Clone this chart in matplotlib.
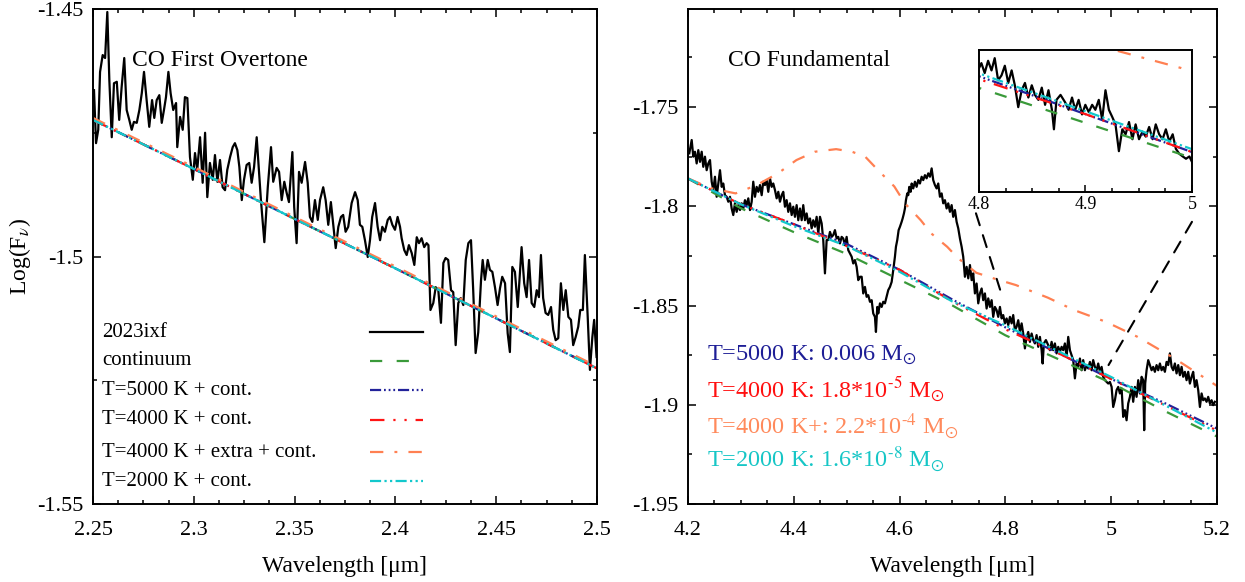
import numpy as np
import matplotlib
matplotlib.use("Agg")
import matplotlib.pyplot as plt
from matplotlib.ticker import MultipleLocator, FuncFormatter
from matplotlib.lines import Line2D
from matplotlib.patches import ConnectionPatch

plt.rcParams['font.family'] = ['Liberation Serif', 'DejaVu Serif']
plt.rcParams['mathtext.fontset'] = 'stix'
plt.rcParams['axes.unicode_minus'] = False

# ---- CO first overtone region (2.25-2.5 micron) ----
left_wl = [
    2.2505, 2.2515, 2.2526, 2.2535, 2.2548, 2.2560, 2.2571, 2.2581, 2.2593, 2.2604,
    2.2618, 2.2630, 2.2642, 2.2655, 2.2667, 2.2680, 2.2692, 2.2703, 2.2717, 2.2730,
    2.2742, 2.2753, 2.2766, 2.2779, 2.2793, 2.2804, 2.2816, 2.2829, 2.2841, 2.2852,
    2.2862, 2.2874, 2.2885, 2.2898, 2.2912, 2.2918, 2.2932, 2.2945, 2.2956, 2.2968,
    2.2981, 2.2995, 2.3006, 2.3017, 2.3031, 2.3044, 2.3056, 2.3067, 2.3080, 2.3094,
    2.3105, 2.3117, 2.3130, 2.3143, 2.3155, 2.3166, 2.3180, 2.3193, 2.3204, 2.3216,
    2.3226, 2.3238, 2.3249, 2.3262, 2.3275, 2.3287, 2.3299, 2.3312, 2.3333, 2.3350,
    2.3367, 2.3383, 2.3394, 2.3411, 2.3423, 2.3436, 2.3449, 2.3461, 2.3472, 2.3489,
    2.3498, 2.3510, 2.3522, 2.3535, 2.3552, 2.3565, 2.3576, 2.3588, 2.3601, 2.3615,
    2.3626, 2.3642, 2.3654, 2.3667, 2.3680, 2.3692, 2.3704, 2.3717, 2.3730, 2.3741,
    2.3753, 2.3766, 2.3783, 2.3800, 2.3813, 2.3824, 2.3836, 2.3849, 2.3863, 2.3874,
    2.3885, 2.3899, 2.3912, 2.3924, 2.3935, 2.3948, 2.3962, 2.3973, 2.3985, 2.3998,
    2.4011, 2.4023, 2.4031, 2.4044, 2.4056, 2.4067, 2.4081, 2.4094, 2.4106, 2.4117,
    2.4130, 2.4143, 2.4155, 2.4164, 2.4174, 2.4188, 2.4200, 2.4213, 2.4226, 2.4238,
    2.4249, 2.4262, 2.4276, 2.4287, 2.4299, 2.4312, 2.4324, 2.4337, 2.4349, 2.4362,
    2.4375, 2.4386, 2.4398, 2.4411, 2.4425, 2.4433, 2.4444, 2.4458, 2.4469, 2.4481,
    2.4494, 2.4507, 2.4519, 2.4530, 2.4544, 2.4557, 2.4568, 2.4580, 2.4593, 2.4607,
    2.4618, 2.4626, 2.4639, 2.4651, 2.4663, 2.4676, 2.4689, 2.4701, 2.4712, 2.4722,
    2.4733, 2.4745, 2.4758, 2.4772, 2.4783, 2.4795, 2.4808, 2.4821, 2.4833, 2.4845,
    2.4858, 2.4871, 2.4882, 2.4894, 2.4907, 2.4917, 2.4930, 2.4940, 2.4954, 2.4965,
    2.4977, 2.4986, 2.4998]
left_flux = [
    -1.4664, -1.4771, -1.4744, -1.4627, -1.4593, -1.4599, -1.4506, -1.4643, -1.4759, -1.4650,
    -1.4647, -1.4724, -1.4658, -1.4599, -1.4704, -1.4724, -1.4744, -1.4728, -1.4730, -1.4704,
    -1.4670, -1.4627, -1.4684, -1.4738, -1.4684, -1.4720, -1.4684, -1.4674, -1.4730, -1.4704,
    -1.4678, -1.4627, -1.4670, -1.4704, -1.4690, -1.4779, -1.4718, -1.4744, -1.4678, -1.4680,
    -1.4799, -1.4845, -1.4791, -1.4825, -1.4759, -1.4851, -1.4750, -1.4880, -1.4811, -1.4845,
    -1.4795, -1.4849, -1.4805, -1.4860, -1.4866, -1.4825, -1.4799, -1.4779, -1.4771, -1.4785,
    -1.4819, -1.4886, -1.4845, -1.4815, -1.4811, -1.4851, -1.4819, -1.4759, -1.4886, -1.4971,
    -1.4860, -1.4779, -1.4849, -1.4821, -1.4829, -1.4886, -1.4849, -1.4872, -1.4890, -1.4789,
    -1.4900, -1.4973, -1.4829, -1.4851, -1.4809, -1.4851, -1.4920, -1.4930, -1.4886, -1.4926,
    -1.4886, -1.4860, -1.4886, -1.4936, -1.4890, -1.4936, -1.4983, -1.4940, -1.4920, -1.4916,
    -1.4950, -1.4940, -1.4892, -1.4870, -1.4886, -1.4936, -1.4940, -1.4967, -1.5001, -1.4967,
    -1.4920, -1.4892, -1.4940, -1.4967, -1.4940, -1.4950, -1.4926, -1.4920, -1.4936, -1.4946,
    -1.4920, -1.4940, -1.4963, -1.4987, -1.4997, -1.4977, -1.4993, -1.5017, -1.4961, -1.4973,
    -1.4963, -1.4981, -1.4973, -1.4977, -1.5108, -1.5094, -1.5062, -1.5068, -1.5134, -1.5013,
    -1.5003, -1.5007, -1.5068, -1.5072, -1.5179, -1.5094, -1.5084, -1.5098, -1.5007, -1.4973,
    -1.4967, -1.5068, -1.5195, -1.5153, -1.5047, -1.5007, -1.5047, -1.5007, -1.5027, -1.5031,
    -1.5062, -1.5098, -1.5064, -1.5041, -1.5054, -1.5155, -1.5193, -1.5021, -1.5031, -1.5102,
    -1.5033, -1.4981, -1.5054, -1.5082, -1.5007, -1.5094, -1.5102, -1.5068, -1.5082, -1.4997,
    -1.5084, -1.5114, -1.5118, -1.5102, -1.5148, -1.5169, -1.5165, -1.5054, -1.5108, -1.5068,
    -1.5122, -1.5128, -1.5179, -1.5163, -1.5142, -1.5108, -1.5108, -1.4997, -1.5122, -1.5229,
    -1.5163, -1.5128, -1.5203]

model_wl_l = [2.25, 2.30, 2.35, 2.40, 2.45, 2.50]
cont_l = [-1.4724, -1.4823, -1.4924, -1.5024, -1.5125, -1.5226]
t5000_l = [-1.4724, -1.4823, -1.4924, -1.5024, -1.5125, -1.5226]
t4000_l = [-1.4724, -1.4823, -1.4924, -1.5024, -1.5125, -1.5226]
extra_l = [-1.4720, -1.4819, -1.4920, -1.5020, -1.5121, -1.5222]
t2000_l = [-1.4724, -1.4823, -1.4924, -1.5024, -1.5125, -1.5226]

# ---- CO fundamental region (4.2-5.2 micron) ----
right_wl = [
    4.2025, 4.2070, 4.2100, 4.2132, 4.2164, 4.2195, 4.2227, 4.2259, 4.2289, 4.2321,
    4.2353, 4.2384, 4.2416, 4.2448, 4.2478, 4.2510, 4.2542, 4.2573, 4.2605, 4.2637,
    4.2667, 4.2699, 4.2731, 4.2762, 4.2794, 4.2826, 4.2856, 4.2888, 4.2920, 4.2951,
    4.2983, 4.3015, 4.3045, 4.3077, 4.3109, 4.3140, 4.3172, 4.3204, 4.3234, 4.3266,
    4.3298, 4.3329, 4.3361, 4.3393, 4.3423, 4.3455, 4.3487, 4.3518, 4.3550, 4.3582,
    4.3612, 4.3644, 4.3676, 4.3707, 4.3739, 4.3771, 4.3801, 4.3833, 4.3865, 4.3896,
    4.3928, 4.3960, 4.3990, 4.4022, 4.4054, 4.4085, 4.4117, 4.4149, 4.4179, 4.4211,
    4.4243, 4.4274, 4.4306, 4.4338, 4.4368, 4.4400, 4.4432, 4.4463, 4.4495, 4.4527,
    4.4557, 4.4589, 4.4621, 4.4652, 4.4684, 4.4716, 4.4746, 4.4778, 4.4810, 4.4841,
    4.4873, 4.4905, 4.4935, 4.4967, 4.4999, 4.5030, 4.5062, 4.5094, 4.5124, 4.5156,
    4.5188, 4.5219, 4.5251, 4.5283, 4.5313, 4.5345, 4.5377, 4.5408, 4.5440, 4.5472,
    4.5502, 4.5534, 4.5553, 4.5578, 4.5597, 4.5629, 4.5661, 4.5691, 4.5723, 4.5755,
    4.5786, 4.5818, 4.5850, 4.5880, 4.5912, 4.5931, 4.5956, 4.5982, 4.6007, 4.6039,
    4.6058, 4.6082, 4.6101, 4.6120, 4.6145, 4.6164, 4.6183, 4.6209, 4.6228, 4.6258,
    4.6290, 4.6322, 4.6353, 4.6385, 4.6417, 4.6447, 4.6479, 4.6511, 4.6542, 4.6574,
    4.6606, 4.6636, 4.6668, 4.6700, 4.6731, 4.6763, 4.6795, 4.6825, 4.6857, 4.6889,
    4.6920, 4.6952, 4.6984, 4.7014, 4.7046, 4.7078, 4.7109, 4.7141, 4.7173, 4.7203,
    4.7235, 4.7267, 4.7298, 4.7330, 4.7362, 4.7392, 4.7424, 4.7456, 4.7487, 4.7519,
    4.7551, 4.7581, 4.7613, 4.7645, 4.7676, 4.7708, 4.7740, 4.7770, 4.7802, 4.7834,
    4.7865, 4.7897, 4.7929, 4.7959, 4.7991, 4.8023, 4.8054, 4.8086, 4.8118, 4.8148,
    4.8180, 4.8212, 4.8243, 4.8275, 4.8307, 4.8337, 4.8369, 4.8401, 4.8432, 4.8464,
    4.8496, 4.8526, 4.8558, 4.8590, 4.8621, 4.8653, 4.8685, 4.8704, 4.8728, 4.8766,
    4.8810, 4.8842, 4.8874, 4.8904, 4.8936, 4.8968, 4.8999, 4.9031, 4.9063, 4.9093,
    4.9125, 4.9157, 4.9188, 4.9220, 4.9252, 4.9282, 4.9314, 4.9346, 4.9377, 4.9409,
    4.9441, 4.9471, 4.9503, 4.9535, 4.9566, 4.9598, 4.9630, 4.9660, 4.9692, 4.9724,
    4.9755, 4.9787, 4.9819, 4.9849, 4.9881, 4.9913, 4.9944, 4.9976, 5.0008, 5.0038,
    5.0070, 5.0102, 5.0133, 5.0165, 5.0197, 5.0227, 5.0259, 5.0291, 5.0322, 5.0354,
    5.0386, 5.0416, 5.0448, 5.0480, 5.0511, 5.0543, 5.0575, 5.0605, 5.0624, 5.0643,
    5.0669, 5.0700, 5.0732, 5.0764, 5.0794, 5.0826, 5.0858, 5.0889, 5.0921, 5.0953,
    5.0983, 5.1015, 5.1047, 5.1078, 5.1110, 5.1142, 5.1172, 5.1204, 5.1236, 5.1267,
    5.1299, 5.1331, 5.1361, 5.1393, 5.1425, 5.1456, 5.1488, 5.1520, 5.1550, 5.1582,
    5.1614, 5.1645, 5.1677, 5.1709, 5.1739, 5.1771, 5.1803, 5.1834, 5.1866, 5.1898,
    5.1928, 5.1960]
right_flux = [
    -1.7733, -1.7666, -1.7750, -1.7725, -1.7784, -1.7717, -1.7776, -1.7725, -1.7801, -1.7750,
    -1.7818, -1.7784, -1.7767, -1.7876, -1.7918, -1.7851, -1.7952, -1.7885, -1.7818, -1.7902,
    -1.7885, -1.7944, -1.7952, -1.7977, -1.7952, -1.8011, -1.8044, -1.7985, -1.8028, -1.7994,
    -1.8019, -1.7985, -1.8011, -1.7969, -1.7994, -1.7960, -1.8019, -1.7977, -1.7876, -1.7952,
    -1.7902, -1.7927, -1.7893, -1.7944, -1.7876, -1.7893, -1.7868, -1.7927, -1.7859, -1.7902,
    -1.7885, -1.7918, -1.7960, -1.7927, -1.7977, -1.7944, -1.7927, -1.8002, -1.7969, -1.8028,
    -1.7985, -1.8044, -1.8002, -1.8053, -1.7994, -1.8070, -1.8011, -1.8070, -1.7994, -1.8070,
    -1.8036, -1.8086, -1.8061, -1.8111, -1.8070, -1.8103, -1.8053, -1.8137, -1.8053, -1.8086,
    -1.8170, -1.8338, -1.8170, -1.8170, -1.8129, -1.8154, -1.8145, -1.8120, -1.8162, -1.8154,
    -1.8187, -1.8154, -1.8162, -1.8196, -1.8154, -1.8221, -1.8237, -1.8254, -1.8288, -1.8271,
    -1.8305, -1.8372, -1.8355, -1.8355, -1.8439, -1.8406, -1.8456, -1.8448, -1.8481, -1.8473,
    -1.8540, -1.8557, -1.8633, -1.8507, -1.8540, -1.8489, -1.8507, -1.8481, -1.8489, -1.8456,
    -1.8422, -1.8406, -1.8381, -1.8322, -1.8254, -1.8204, -1.8170, -1.8120, -1.8103, -1.8078,
    -1.8061, -1.8036, -1.8011, -1.7969, -1.7935, -1.7944, -1.7902, -1.7927, -1.7885, -1.7910,
    -1.7876, -1.7902, -1.7868, -1.7885, -1.7851, -1.7868, -1.7843, -1.7859, -1.7834, -1.7851,
    -1.7809, -1.7868, -1.7893, -1.7910, -1.7885, -1.7952, -1.7935, -1.7985, -1.7969, -1.8011,
    -1.7985, -1.8028, -1.7994, -1.8053, -1.8019, -1.8078, -1.8111, -1.8162, -1.8204, -1.8254,
    -1.8355, -1.8305, -1.8363, -1.8296, -1.8372, -1.8338, -1.8439, -1.8389, -1.8489, -1.8439,
    -1.8414, -1.8473, -1.8439, -1.8515, -1.8464, -1.8507, -1.8473, -1.8557, -1.8507, -1.8523,
    -1.8557, -1.8507, -1.8565, -1.8548, -1.8590, -1.8565, -1.8599, -1.8557, -1.8590, -1.8548,
    -1.8624, -1.8607, -1.8574, -1.8633, -1.8590, -1.8641, -1.8716, -1.8658, -1.8633, -1.8683,
    -1.8641, -1.8674, -1.8691, -1.8649, -1.8708, -1.8658, -1.8725, -1.8792, -1.8691, -1.8674,
    -1.8700, -1.8725, -1.8683, -1.8725, -1.8691, -1.8741, -1.8708, -1.8733, -1.8708, -1.8725,
    -1.8691, -1.8759, -1.8658, -1.8725, -1.8750, -1.8775, -1.8867, -1.8792, -1.8809, -1.8767,
    -1.8826, -1.8775, -1.8826, -1.8800, -1.8817, -1.8784, -1.8826, -1.8775, -1.8809, -1.8826,
    -1.8792, -1.8834, -1.8809, -1.8859, -1.8876, -1.8885, -1.8893, -1.8885, -1.8910, -1.9011,
    -1.8977, -1.8926, -1.8910, -1.8943, -1.8918, -1.9061, -1.9027, -1.9078, -1.8993, -1.8960,
    -1.8910, -1.8985, -1.8910, -1.8960, -1.8876, -1.8943, -1.8859, -1.8876, -1.9128, -1.8893,
    -1.8826, -1.8775, -1.8800, -1.8826, -1.8809, -1.8834, -1.8800, -1.8826, -1.8792, -1.8826,
    -1.8809, -1.8834, -1.8784, -1.8800, -1.8741, -1.8809, -1.8826, -1.8792, -1.8842, -1.8800,
    -1.8851, -1.8809, -1.8859, -1.8834, -1.8876, -1.8834, -1.8893, -1.8859, -1.8834, -1.8910,
    -1.8876, -1.8926, -1.9011, -1.8943, -1.8977, -1.8968, -1.8985, -1.8960, -1.8993, -1.8977,
    -1.9002, -1.8985]

model_wl_r = [4.2, 4.3, 4.4, 4.5, 4.6, 4.7, 4.8, 4.9, 5.0, 5.1, 5.2]
cont_r = [-1.786, -1.801, -1.813, -1.824, -1.837, -1.850, -1.865, -1.877, -1.889, -1.903, -1.916]
t5000_r = [-1.786, -1.799, -1.809, -1.819, -1.832, -1.847, -1.861, -1.874, -1.887, -1.899, -1.912]
t4000_r = [-1.786, -1.799, -1.809, -1.820, -1.832, -1.848, -1.862, -1.874, -1.887, -1.900, -1.913]
t2000_r = [-1.786, -1.799, -1.810, -1.820, -1.833, -1.848, -1.860, -1.873, -1.886, -1.900, -1.914]

extra_wl_r = [4.20, 4.245, 4.29, 4.33, 4.37, 4.405, 4.44, 4.48, 4.51, 4.535, 4.56, 4.59, 4.61,
              4.64, 4.66, 4.69, 4.71, 4.745, 4.78, 4.82, 4.88, 4.93, 4.99, 5.05, 5.12, 5.2]
extra_r = [-1.786, -1.791, -1.7935, -1.7893, -1.7834, -1.7767, -1.7725, -1.7712, -1.7725,
           -1.775, -1.782, -1.790, -1.7985, -1.807, -1.8137, -1.8204, -1.826, -1.8335,
           -1.8365, -1.8397, -1.846, -1.8523, -1.8582, -1.8658, -1.8767, -1.8905]

legend_labels = ['2023ixf', 'continuum', 'T=5000 K + cont.', 'T=4000 K + cont.',
                 'T=4000 K + extra + cont.', 'T=2000 K + cont.']
mass_labels = [r'T=5000 K: 0.006 M$_{\odot}$',
               r'T=4000 K: 1.8*10$^{\text{-5}}$ M$_{\odot}$',
               r'T=4000 K+: 2.2*10$^{\text{-4}}$ M$_{\odot}$',
               r'T=2000 K: 1.6*10$^{\text{-8}}$ M$_{\odot}$']

# line styles, gnuplot-like
sty = {
    'obs':   dict(color='black', lw=1.6, ls='-'),
    'cont':  dict(color='#3a9a3a', lw=1.6, ls=(0, (5.5, 6.5))),
    't5000': dict(color='#22229a', lw=1.6, ls=(0, (5, 1.3, 0.8, 1.3, 0.8, 1.3, 0.8, 1.3))),
    't4000': dict(color='#ff1414', lw=1.6, ls=(0, (6.5, 4, 1, 4, 1, 4))),
    'extra': dict(color='#ff8052', lw=1.6, ls=(0, (6, 5, 1.3, 5))),
    't2000': dict(color='#12c8cc', lw=1.6, ls=(0, (5, 1.5, 1, 1.5, 1, 1.5))),
}
keys = ['obs', 'cont', 't5000', 't4000', 'extra', 't2000']
text_colors = ['#1e1e96', '#ff1010', '#ff8a5c', '#16c6c6']

fmt = FuncFormatter(lambda v, p: '%g' % round(v, 4))


def style_axes(ax, xmaj, xmin, ymin):
    ax.xaxis.set_major_locator(MultipleLocator(xmaj))
    ax.xaxis.set_minor_locator(MultipleLocator(xmin))
    ax.yaxis.set_minor_locator(MultipleLocator(ymin))
    ax.xaxis.set_major_formatter(fmt)
    ax.yaxis.set_major_formatter(fmt)
    ax.tick_params(which='both', direction='in', top=True, right=True, width=1.1)
    ax.tick_params(which='major', length=6, labelsize=16)
    ax.tick_params(which='minor', length=3)
    ax.tick_params(axis='x', pad=12)
    ax.tick_params(axis='y', pad=7)
    for s in ax.spines.values():
        s.set_linewidth(1.4)


fig = plt.figure(figsize=(12.45, 5.82), dpi=100)

# left panel
ax1 = fig.add_axes([0.0747, 0.134, 0.4048, 0.8505])
ax1.plot(left_wl, left_flux, **sty['obs'])
ax1.plot(model_wl_l, cont_l, **sty['cont'])
ax1.plot(model_wl_l, t5000_l, **sty['t5000'])
ax1.plot(model_wl_l, t4000_l, **sty['t4000'])
ax1.plot(model_wl_l, extra_l, **sty['extra'])
ax1.plot(model_wl_l, t2000_l, **sty['t2000'])
ax1.set_xlim(2.25, 2.5)
ax1.set_ylim(-1.55, -1.45)
ax1.set_yticks([-1.55, -1.5, -1.45])
style_axes(ax1, 0.05, 0.0125, 0.025)
ax1.set_xlabel('Wavelength [\u03bcm]', fontsize=17)
ax1.xaxis.set_label_coords(0.5, -0.105)
ax1.set_ylabel(r'Log(F$_{\nu}$)', fontsize=17)
ax1.yaxis.set_label_coords(-0.12, 0.5)
ax1.text(0.077, 0.897, 'CO First Overtone', transform=ax1.transAxes,
         fontsize=17, va='center', ha='left')

# hand-made legend: labels on the left, line samples in a column on the right
rows = [0.347, 0.289, 0.230, 0.170, 0.105, 0.046]
for k, lab, yr in zip(keys, legend_labels, rows):
    ax1.text(0.018, yr, lab, transform=ax1.transAxes, fontsize=15, va='center')
    ax1.add_line(Line2D([0.55, 0.655], [yr, yr], transform=ax1.transAxes, **sty[k]))

# right panel
ax2 = fig.add_axes([0.5526, 0.134, 0.4249, 0.8505])


def draw_fundamental(ax):
    ax.plot(right_wl, right_flux, **sty['obs'])
    ax.plot(model_wl_r, cont_r, **sty['cont'])
    ax.plot(model_wl_r, t5000_r, **sty['t5000'])
    ax.plot(model_wl_r, t4000_r, **sty['t4000'])
    ax.plot(extra_wl_r, extra_r, **sty['extra'])
    ax.plot(model_wl_r, t2000_r, **sty['t2000'])


draw_fundamental(ax2)
ax2.set_xlim(4.2, 5.2)
ax2.set_ylim(-1.95, -1.7006)
ax2.set_yticks([-1.95, -1.9, -1.85, -1.8, -1.75])
style_axes(ax2, 0.2, 0.05, 0.025)
ax2.set_xlabel('Wavelength [\u03bcm]', fontsize=17)
ax2.xaxis.set_label_coords(0.5, -0.105)
ax2.text(0.076, 0.897, 'CO Fundamental', transform=ax2.transAxes,
         fontsize=17, va='center', ha='left')
for lab, c, yr in zip(mass_labels, text_colors, [0.30, 0.232, 0.158, 0.09]):
    ax2.text(0.036, yr, lab, transform=ax2.transAxes, fontsize=17.5, color=c, va='center')

# zoomed inset around 4.8-5.0 micron
axin = fig.add_axes([0.7863, 0.6701, 0.1711, 0.244])
draw_fundamental(axin)
axin.set_xlim(4.8, 5.0)
axin.set_ylim(-1.9007, -1.852)
axin.set_yticks([])
axin.xaxis.set_major_locator(MultipleLocator(0.1))
axin.xaxis.set_minor_locator(MultipleLocator(0.025))
axin.xaxis.set_major_formatter(fmt)
axin.tick_params(which='both', direction='in', labelsize=13, pad=3, width=1.1)
axin.tick_params(which='major', length=5)
axin.tick_params(which='minor', length=3)
for s in axin.spines.values():
    s.set_linewidth(1.4)

# dashed connectors from the inset to the zoomed part of the spectrum
for xa, ya, xb, yb in [(-0.014, -0.15, 4.79, -1.842), (1.0, -0.21, 4.995, -1.880)]:
    con = ConnectionPatch(xyA=(xa, ya), coordsA=axin.transAxes,
                          xyB=(xb, yb), coordsB=ax2.transData,
                          color='black', lw=1.5, ls=(0, (6, 5)))
    fig.add_artist(con)

fig.savefig('out.png', dpi=100)
